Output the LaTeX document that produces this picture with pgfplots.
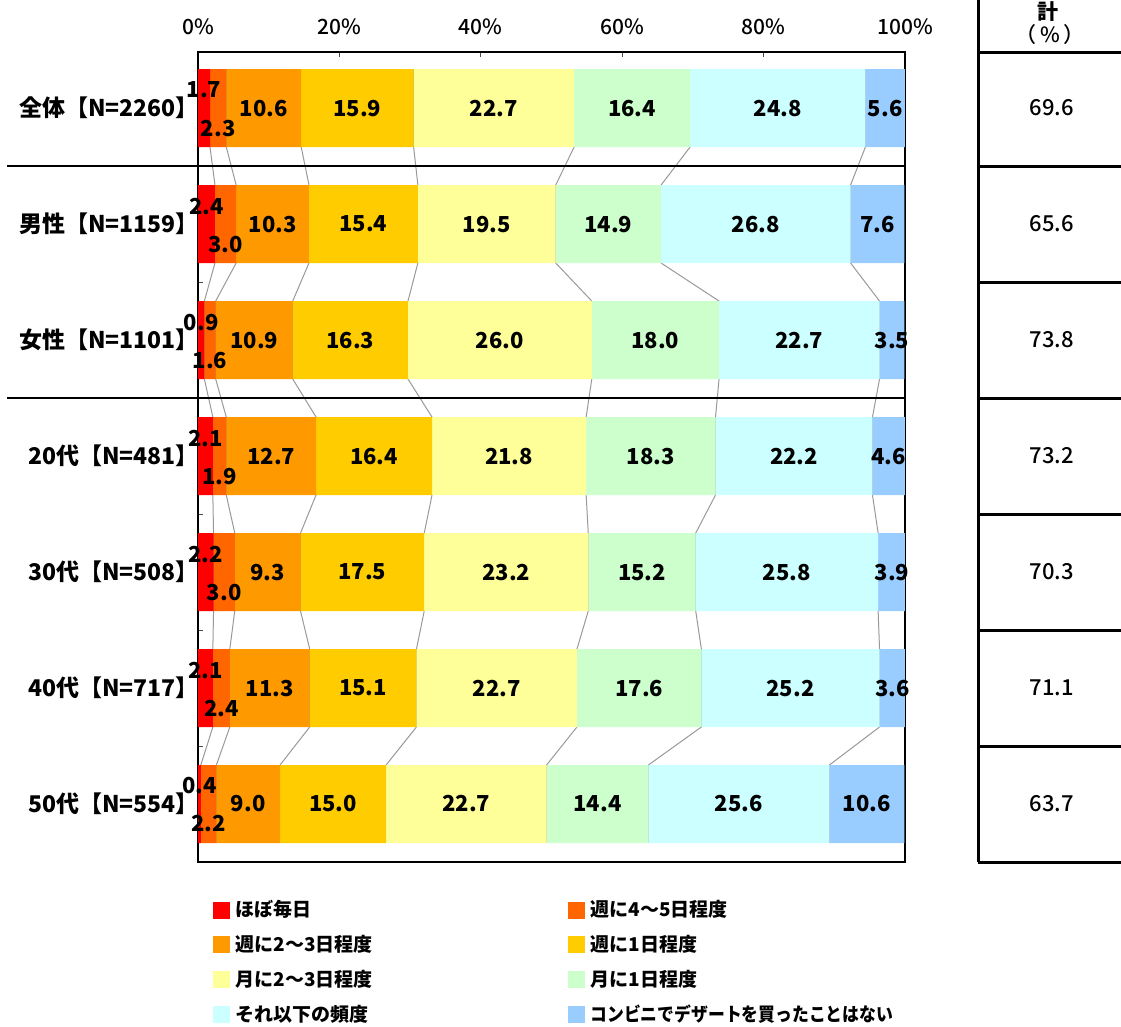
\documentclass[border=0pt]{standalone}
\usepackage{fontspec}
\setmainfont{Noto Sans CJK JP}
\newfontfamily\medfont{Noto Sans CJK JP Medium}
\usepackage{graphicx}
\usepackage{pgfplots}
\usepackage{pgfplotstable}
\pgfplotsset{compat=1.18}

% values per row (a1..a8), t = total shown in the right column
\pgfplotstableread{
row a1  a2  a3   a4   a5   a6   a7   a8   t
0   1.7 2.3 10.6 15.9 22.7 16.4 24.8 5.6  69.6
1   2.4 3.0 10.3 15.4 19.5 14.9 26.8 7.6  65.6
2   0.9 1.6 10.9 16.3 26.0 18.0 22.7 3.5  73.8
3   2.1 1.9 12.7 16.4 21.8 18.3 22.2 4.6  73.2
4   2.2 3.0 9.3  17.5 23.2 15.2 25.8 3.9  70.3
5   2.1 2.4 11.3 15.1 22.7 17.6 25.2 3.6  71.1
6   0.4 2.2 9.0  15.0 22.7 14.4 25.6 10.6 63.7
}\data
\pgfplotstablecreatecol[create col/expr={\thisrow{a1}}]{c1}{\data}
\pgfplotstablecreatecol[create col/expr={\thisrow{c1}+\thisrow{a2}}]{c2}{\data}
\pgfplotstablecreatecol[create col/expr={\thisrow{c2}+\thisrow{a3}}]{c3}{\data}
\pgfplotstablecreatecol[create col/expr={\thisrow{c3}+\thisrow{a4}}]{c4}{\data}
\pgfplotstablecreatecol[create col/expr={\thisrow{c4}+\thisrow{a5}}]{c5}{\data}
\pgfplotstablecreatecol[create col/expr={\thisrow{c5}+\thisrow{a6}}]{c6}{\data}
\pgfplotstablecreatecol[create col/expr={\thisrow{c6}+\thisrow{a7}}]{c7}{\data}

% cumulative boundaries at the bottom / top edge of each bar (for the grey connectors)
\pgfplotstableread{
y      k1  k2  k3   k4   k5   k6   k7
-0.336 1.7 4.0 14.6 30.5 53.2 69.6 94.4
0.336  1.7 4.0 14.6 30.5 53.2 69.6 94.4
0.664  2.4 5.4 15.7 31.1 50.6 65.5 92.3
1.336  2.4 5.4 15.7 31.1 50.6 65.5 92.3
1.664  0.9 2.5 13.4 29.7 55.7 73.7 96.4
2.336  0.9 2.5 13.4 29.7 55.7 73.7 96.4
2.664  2.1 4.0 16.7 33.1 54.9 73.2 95.4
3.336  2.1 4.0 16.7 33.1 54.9 73.2 95.4
3.664  2.2 5.2 14.5 32.0 55.2 70.4 96.2
4.336  2.2 5.2 14.5 32.0 55.2 70.4 96.2
4.664  2.1 4.5 15.8 30.9 53.6 71.2 96.4
5.336  2.1 4.5 15.8 30.9 53.6 71.2 96.4
5.664  0.4 2.6 11.6 26.6 49.3 63.7 89.3
6.336  0.4 2.6 11.6 26.6 49.3 63.7 89.3
}\conn

\definecolor{s1}{HTML}{FF0000}
\definecolor{s2}{HTML}{FF6600}
\definecolor{s3}{HTML}{FF9900}
\definecolor{s4}{HTML}{FFCC00}
\definecolor{s5}{HTML}{FFFF99}
\definecolor{s6}{HTML}{CCFFCC}
\definecolor{s7}{HTML}{CCFFFF}
\definecolor{s8}{HTML}{99CCFF}

\pgfplotsset{
  /pgf/number format/assume math mode=true,
  rows/.style={at={(99pt,-431pt)}, anchor=south west, scale only axis,
    width=353.5pt, height=405pt, xmin=0, xmax=100,
    ymin=-0.483, ymax=6.5, y dir=reverse},
  lbl/.style={draw=none, point meta=explicit,
    nodes near coords={\pgfmathprintnumber[fixed,fixed zerofill,precision=1]{\pgfplotspointmeta}},
    every node near coord/.append style={anchor=center, inner sep=0pt,
      font=\bfseries\fontsize{11pt}{13pt}\selectfont, text=black}},
}

\begin{document}
\begin{tikzpicture}
\path[use as bounding box] (0,0) rectangle (560.5pt,-513.5pt);

% grey connectors, drawn first so the bars cover their vertical parts
\begin{axis}[rows, hide axis]
\foreach \k in {k1,k2,k3,k4,k5,k6,k7}{
  \addplot[gray!80, line width=0.5pt] table[x=\k, y=y]{\conn};
}
\end{axis}

\begin{axis}[rows,
  xbar stacked, bar width=39pt,
  axis line style={line width=1pt},
  xtick={0,20,...,100}, xticklabels={0\%,20\%,40\%,60\%,80\%,100\%},
  minor xtick={20,40,60,80},
  xtick pos=upper, xticklabel pos=upper,
  xticklabel style={font=\medfont\fontsize{10.5pt}{12pt}\selectfont, yshift=5pt},
  ytick={0,...,6},
  yticklabels={全体【N=2260】,男性【N=1159】,女性【N=1101】,20代【N=481】,30代【N=508】,40代【N=717】,50代【N=554】},
  minor ytick={0.5,1.5,...,5.5},
  ytick pos=left,
  yticklabel style={font=\bfseries\fontsize{11.5pt}{13pt}\selectfont, xshift=4pt},
  major tick length=0pt, minor tick length=2.5pt, tick align=inside,
  minor tick style={black!70, line width=0.5pt},
  legend columns=2,
  legend cell align=left,
  legend image code/.code={\fill[#1] (0pt,-4.25pt) rectangle (8.5pt,4.25pt);},
  legend style={at={(0.02,-0.047)}, anchor=north west, draw=none, fill=none,
    inner sep=0pt, row sep=7.8pt,
    font=\bfseries\fontsize{9.5pt}{11pt}\selectfont,
    nodes={inner sep=0pt},
    /tikz/every odd column/.append style={column sep=3pt}},
]
\addplot[fill=s1, draw=none] table[x=a1, y=row]{\data};
\addplot[fill=s2, draw=none] table[x=a2, y=row]{\data};
\addplot[fill=s3, draw=none] table[x=a3, y=row]{\data};
\addplot[fill=s4, draw=none] table[x=a4, y=row]{\data};
\addplot[fill=s5, draw=none] table[x=a5, y=row]{\data};
\addplot[fill=s6, draw=none] table[x=a6, y=row]{\data};
\addplot[fill=s7, draw=none] table[x=a7, y=row]{\data};
\addplot[fill=s8, draw=none] table[x=a8, y=row]{\data};
\legend{\makebox[166pt][l]{ほぼ毎日},週に4～5日程度,
  \makebox[166pt][l]{週に2～3日程度},週に1日程度,
  \makebox[166pt][l]{月に2～3日程度},月に1日程度,
  \makebox[166pt][l]{それ以下の頻度},\scalebox{0.885}[1]{コンビニでデザートを買ったことはない}}
\end{axis}

% value labels and group separators
\begin{axis}[rows, hide axis, clip=false]
\addplot[lbl, every node near coord/.append style={yshift=9pt}]
  table[x expr=0.5*\thisrow{a1}, y=row, meta=a1]{\data};
\addplot[lbl, every node near coord/.append style={yshift=-10pt}]
  table[x expr=\thisrow{c1}+0.5*\thisrow{a2}, y=row, meta=a2]{\data};
\addplot[lbl] table[x expr=\thisrow{c2}+0.5*\thisrow{a3}, y=row, meta=a3]{\data};
\addplot[lbl] table[x expr=\thisrow{c3}+0.5*\thisrow{a4}, y=row, meta=a4]{\data};
\addplot[lbl] table[x expr=\thisrow{c4}+0.5*\thisrow{a5}, y=row, meta=a5]{\data};
\addplot[lbl] table[x expr=\thisrow{c5}+0.5*\thisrow{a6}, y=row, meta=a6]{\data};
\addplot[lbl] table[x expr=\thisrow{c6}+0.5*\thisrow{a7}, y=row, meta=a7]{\data};
\addplot[lbl] table[x expr=\thisrow{c7}+0.5*\thisrow{a8}, y=row, meta=a8]{\data};
\addplot[black, line width=1pt] coordinates {(-27,0.5) (100,0.5)};
\addplot[black, line width=1pt] coordinates {(-27,2.5) (100,2.5)};
\end{axis}

% right-hand table of totals
\begin{axis}[at={(489pt,-431pt)}, anchor=south west, scale only axis,
  width=100pt, height=405pt, xmin=0, xmax=1,
  ymin=-0.483, ymax=6.5, y dir=reverse, hide axis, clip=false]
\addplot[black, line width=1.5pt] coordinates {(0,-1.2) (0,6.5)};
\pgfplotsinvokeforeach{-0.483,0.5,1.5,2.5,3.5,4.5,5.5,6.5}{
  \addplot[black, line width=1.5pt] coordinates {(0,#1) (1.2,#1)};
}
\addplot[lbl, every node near coord/.append style={font=\medfont\fontsize{11pt}{13pt}\selectfont}]
  table[x expr=0.37, y=row, meta=t]{\data};
\node[font=\bfseries\fontsize{10.5pt}{12pt}\selectfont] at (axis cs:0.35,-0.83) {計};
\node[font=\medfont\fontsize{10.5pt}{12pt}\selectfont] at (axis cs:0.36,-0.63) {（\,\%\,）};
\end{axis}
\end{tikzpicture}
\end{document}
